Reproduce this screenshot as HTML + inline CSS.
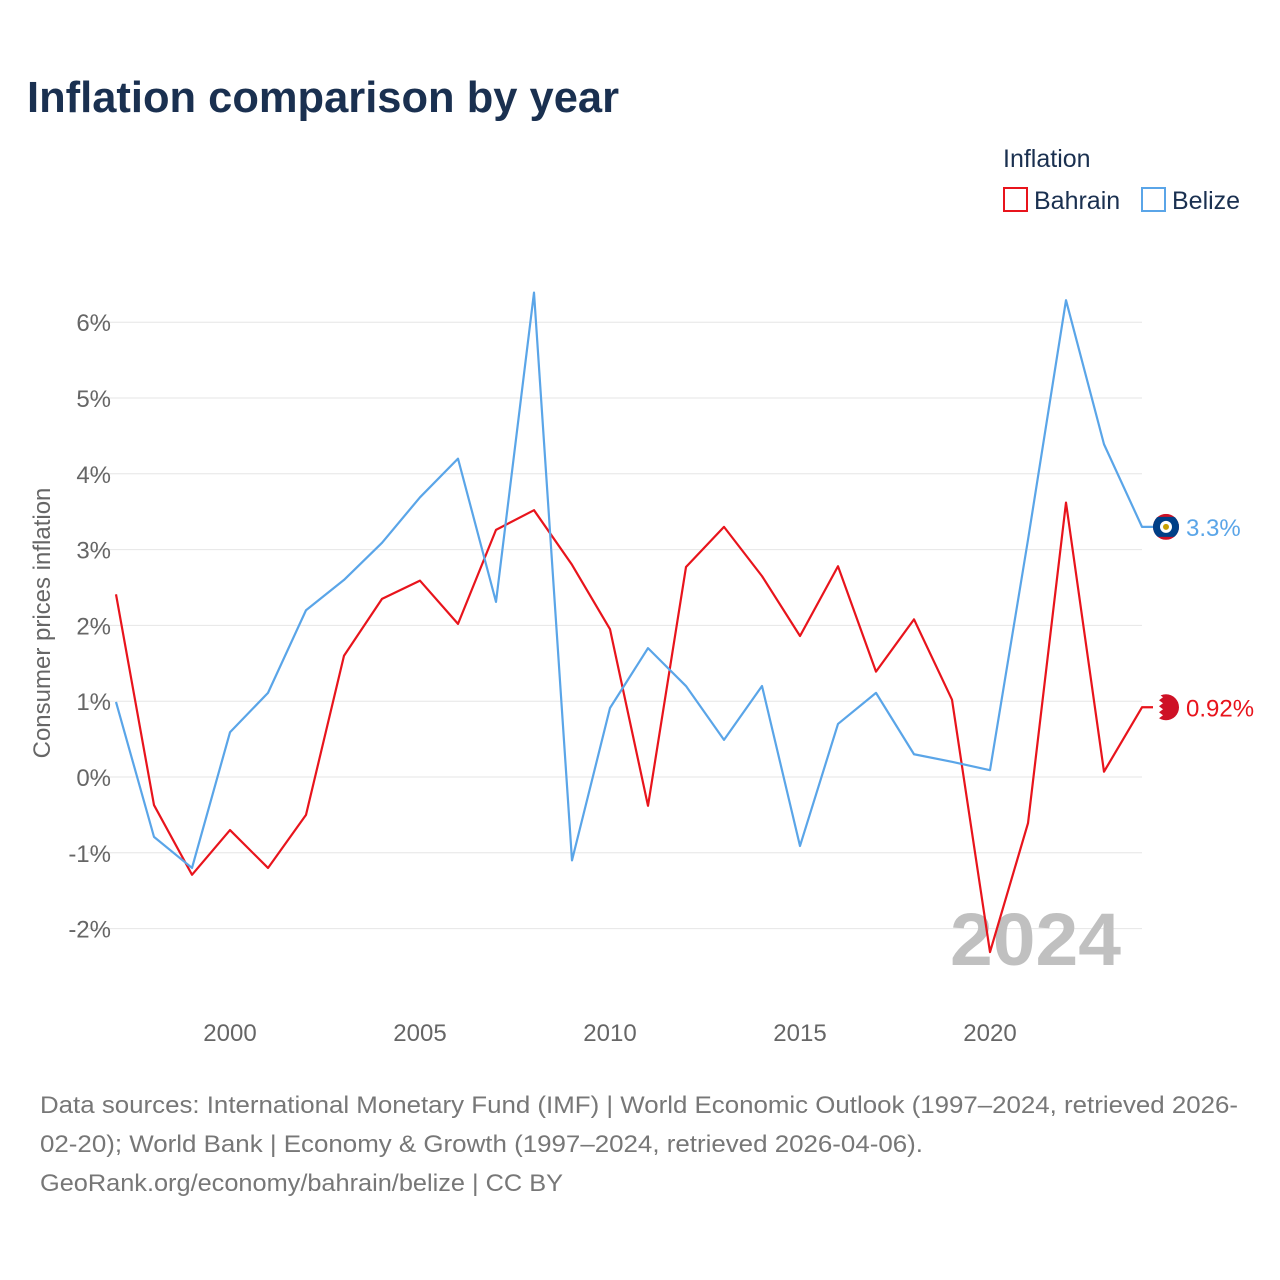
<!DOCTYPE html>
<html><head><meta charset="utf-8">
<style>
body{margin:0;background:#fff;font-family:"Liberation Sans",sans-serif;}
#wrap{position:relative;width:1280px;height:1280px;overflow:hidden;}
</style></head>
<body>
<div id="wrap">
<svg id="chart" width="1280" height="1280" xmlns="http://www.w3.org/2000/svg">
<defs><clipPath id="fc"><circle cx="1166" cy="527" r="13"/></clipPath></defs>
<text x="27" y="112" font-size="44" font-weight="bold" fill="#1a3050" textLength="592" lengthAdjust="spacingAndGlyphs">Inflation comparison by year</text>
<text x="1003" y="167" font-size="25" fill="#1a3050">Inflation</text>
<g><rect x="1004" y="188" width="23" height="23" fill="none" stroke="#e8141c" stroke-width="2"/><text x="1034" y="209" font-size="25" fill="#1a3050">Bahrain</text></g>
<g><rect x="1142" y="188" width="23" height="23" fill="none" stroke="#5aa5e8" stroke-width="2"/><text x="1172" y="209" font-size="25" fill="#1a3050">Belize</text></g>
<g id="grid"></g><g id="xaxis"></g>
<text x="950" y="965" font-size="74" font-weight="bold" fill="#c0c0c0" textLength="171" lengthAdjust="spacingAndGlyphs">2024</text>
<text transform="translate(50,623) rotate(-90)" text-anchor="middle" font-size="24" fill="#666">Consumer prices inflation</text>
<g id="series"></g>
<text x="40" y="1113" font-size="24" fill="#777" textLength="1198" lengthAdjust="spacingAndGlyphs">Data sources: International Monetary Fund (IMF) | World Economic Outlook (1997–2024, retrieved 2026-</text>
<text x="40" y="1152" font-size="24" fill="#777" textLength="883" lengthAdjust="spacingAndGlyphs">02-20); World Bank | Economy &amp; Growth (1997–2024, retrieved 2026-04-06).</text>
<text x="40" y="1191" font-size="24" fill="#777" textLength="523" lengthAdjust="spacingAndGlyphs">GeoRank.org/economy/bahrain/belize | CC BY</text>
</svg>
</div>
<script>
const years=[1997,1998,1999,2000,2001,2002,2003,2004,2005,2006,2007,2008,2009,2010,2011,2012,2013,2014,2015,2016,2017,2018,2019,2020,2021,2022,2023,2024];
const bahrain=[2.41,-0.37,-1.29,-0.70,-1.20,-0.50,1.60,2.35,2.59,2.02,3.26,3.52,2.80,1.95,-0.38,2.77,3.30,2.65,1.86,2.78,1.39,2.08,1.02,-2.31,-0.61,3.62,0.07,0.92];
const belize=[0.99,-0.79,-1.20,0.59,1.11,2.20,2.60,3.09,3.69,4.20,2.31,6.39,-1.10,0.91,1.70,1.20,0.49,1.20,-0.91,0.70,1.11,0.30,0.20,0.09,3.13,6.29,4.39,3.30];
const yTicks=[-2,-1,0,1,2,3,4,5,6];
const xTicks=[2000,2005,2010,2015,2020];
const NS="http://www.w3.org/2000/svg";
const x=y=>116+(y-1997)*38;
const yv=v=>777-v*75.8;
function mk(tag,attrs,parent){const e=document.createElementNS(NS,tag);for(const k in attrs)e.setAttribute(k,attrs[k]);parent.appendChild(e);return e;}
const grid=document.getElementById('grid');
yTicks.forEach(t=>{
  const l=mk('line',{x1:88,x2:1142,y1:yv(t),y2:yv(t),stroke:'#e6e6e6','stroke-width':1},grid);
  
  
  const tx=mk('text',{x:111,y:yv(t)+9,'text-anchor':'end','font-size':24,fill:'#666'},grid);
  tx.textContent=t+'%';
  
  
});
const xa=document.getElementById('xaxis');
xTicks.forEach(t=>{
  const tx=mk('text',{x:x(t),y:1041,'text-anchor':'middle','font-size':24,fill:'#666'},xa);
  tx.textContent=t;
  
  
});
const S=document.getElementById('series');
function line(vals,color,name,label){
  const pts=vals.map((v,i)=>x(years[i])+','+yv(v));
  const last=vals[vals.length-1];
  pts.push((x(2024)+24)+','+yv(last));
  const p=mk('polyline',{points:pts.join(' '),fill:'none',stroke:color,'stroke-width':2.2,'stroke-linejoin':'round'},S);
  
  
  const t=mk('text',{x:x(2024)+44,y:yv(last)+9,'font-size':24,fill:color},S);
  t.textContent=label;
  
  
  return yv(last);
}
const by=line(bahrain,'#e8141c','bahrain','0.92%');
const zy=line(belize,'#5aa5e8','belize','3.3%');
document.querySelector('#fc circle').setAttribute('cy',zy);
const fb=mk('g',{},S);


mk('circle',{cx:1166,cy:by,r:13,fill:'#ce1126'},fb);
mk('path',{d:`M1153 ${by-13} h6 l4 3 l-4 3 l4 3 l-4 3 l4 3 l-4 3 l4 3 l-4 3 h-6 z`,fill:'#fff'},fb);
const fz=mk('g',{'clip-path':'url(#fc)'},S);


mk('rect',{x:1153,y:zy-13,width:26,height:26,fill:'#ce1126'},fz);
mk('rect',{x:1153,y:zy-10,width:26,height:20,fill:'#003f87'},fz);
mk('circle',{cx:1166,cy:zy,r:6,fill:'#fff'},fz);
mk('circle',{cx:1166,cy:zy,r:3,fill:'#c8a000'},fz);
</script>
</body></html>
